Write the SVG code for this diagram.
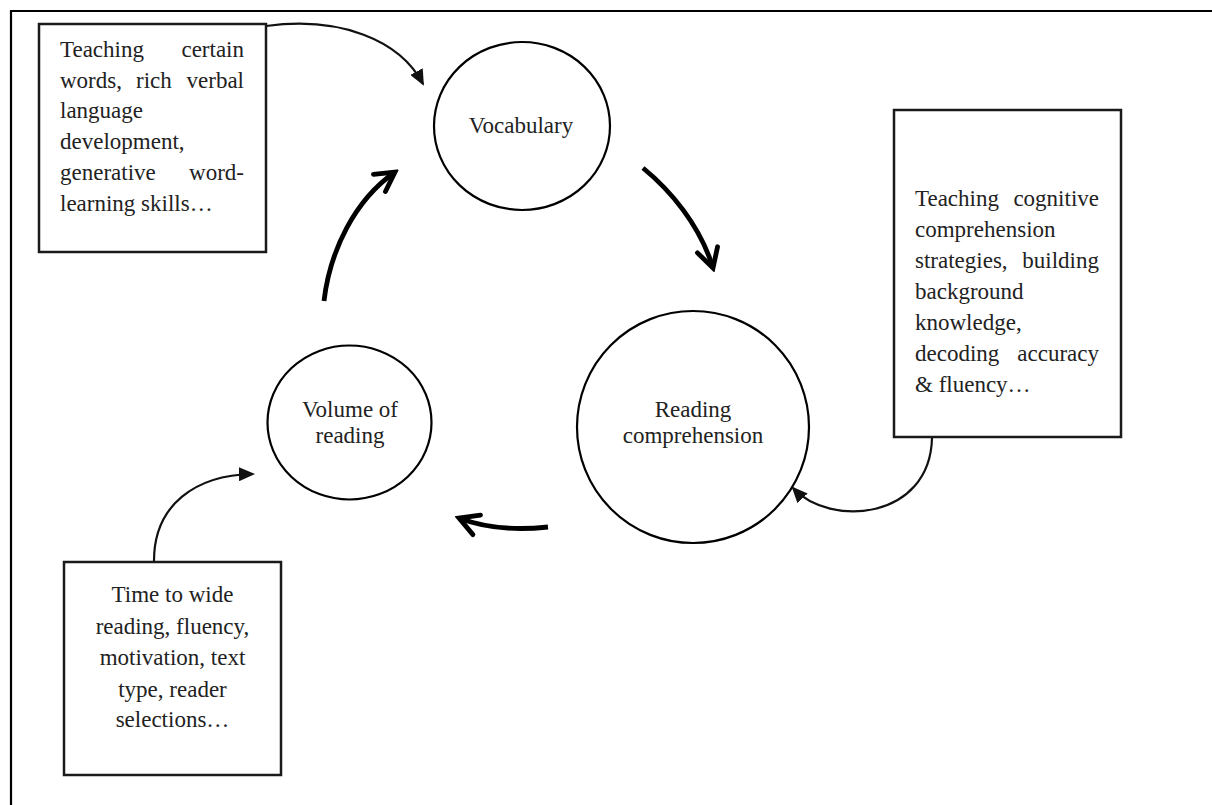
<svg xmlns="http://www.w3.org/2000/svg" width="1212" height="805" viewBox="0 0 1212 805">
<style>
.box{fill:#fff;stroke:#1a1a1a;stroke-width:2.5}
.node{fill:#fff;stroke:#000;stroke-width:2.2}
.t{font-family:"Liberation Serif","Times New Roman",serif;font-size:23px;fill:#222}
.c{text-anchor:middle}
.e{text-anchor:end}
.thin{fill:none;stroke:#111;stroke-width:2.2}
.thick{fill:none;stroke:#000;stroke-width:4.8;stroke-linecap:butt}
</style>
<defs>
<marker id="tri" viewBox="0 0 16 14" refX="14" refY="7" markerWidth="16" markerHeight="14" markerUnits="userSpaceOnUse" orient="auto">
<path d="M0,0 L16,7 L0,14 Z" fill="#111"/>
</marker>
<marker id="chev" viewBox="-24 -14 28 28" refX="0" refY="0" markerWidth="28" markerHeight="28" markerUnits="userSpaceOnUse" orient="auto">
<path d="M-19,-10.5 L0,0 L-19,10.5" fill="none" stroke="#000" stroke-width="4.8" stroke-linecap="round" stroke-linejoin="miter"/>
</marker>
</defs>
<rect width="1212" height="805" fill="#fff"/>
<path d="M11,805 V11 H1212" fill="none" stroke="#000" stroke-width="2.2"/>

<g id="connectors">
<path class="thin" d="M266,26 C340,16 400,40 423,84" marker-end="url(#tri)"/>
<path class="thin" d="M932,438 C930,520 830,528 793,488" marker-end="url(#tri)"/>
<path class="thin" d="M154,561 C154,505 195,475 253,474" marker-end="url(#tri)"/>
<path class="thick" d="M324,301 C330,250 355,200 395,172" marker-end="url(#chev)"/>
<path class="thick" d="M643,168 C670,190 700,225 713,268" marker-end="url(#chev)"/>
<path class="thick" d="M548,527 C520,530 490,530 459,518" marker-end="url(#chev)"/>
</g>

<g id="box-vocab-teaching">
<rect class="box" x="39" y="24" width="227" height="228"/>
<text class="t" x="60" y="57">Teaching</text><text class="t e" x="244" y="57">certain</text>
<text class="t" x="60" y="88">words,</text><text class="t" x="136" y="88">rich</text><text class="t e" x="244" y="88">verbal</text>
<text class="t" x="60" y="118">language</text>
<text class="t" x="60" y="149">development,</text>
<text class="t" x="60" y="180">generative</text><text class="t e" x="244" y="180">word-</text>
<text class="t" x="60" y="211">learning skills…</text>
</g>

<g id="node-vocabulary">
<ellipse class="node" cx="522" cy="126" rx="88" ry="84"/>
<text class="t c" x="521" y="133">Vocabulary</text>
</g>

<g id="box-comprehension-teaching">
<rect class="box" x="894" y="110" width="227" height="327"/>
<text class="t" x="915" y="206">Teaching</text><text class="t e" x="1099" y="206">cognitive</text>
<text class="t" x="915" y="237">comprehension</text>
<text class="t" x="915" y="268">strategies,</text><text class="t e" x="1099" y="268">building</text>
<text class="t" x="915" y="299">background</text>
<text class="t" x="915" y="330">knowledge,</text>
<text class="t" x="915" y="361">decoding</text><text class="t e" x="1099" y="361">accuracy</text>
<text class="t" x="915" y="392">&amp; fluency…</text>
</g>

<g id="node-reading-comprehension">
<circle class="node" cx="693" cy="427" r="116"/>
<text class="t c" x="693" y="417">Reading</text>
<text class="t c" x="693" y="443">comprehension</text>
</g>

<g id="node-volume">
<ellipse class="node" cx="349.5" cy="422.5" rx="82" ry="77"/>
<text class="t c" x="350" y="417">Volume of</text>
<text class="t c" x="350" y="443">reading</text>
</g>

<g id="box-volume-factors">
<rect class="box" x="64" y="562" width="217" height="213"/>
<text class="t c" x="172.5" y="602">Time to wide</text>
<text class="t c" x="172.5" y="634">reading, fluency,</text>
<text class="t c" x="172.5" y="665">motivation, text</text>
<text class="t c" x="172.5" y="697">type, reader</text>
<text class="t c" x="172.5" y="727">selections…</text>
</g>
</svg>
